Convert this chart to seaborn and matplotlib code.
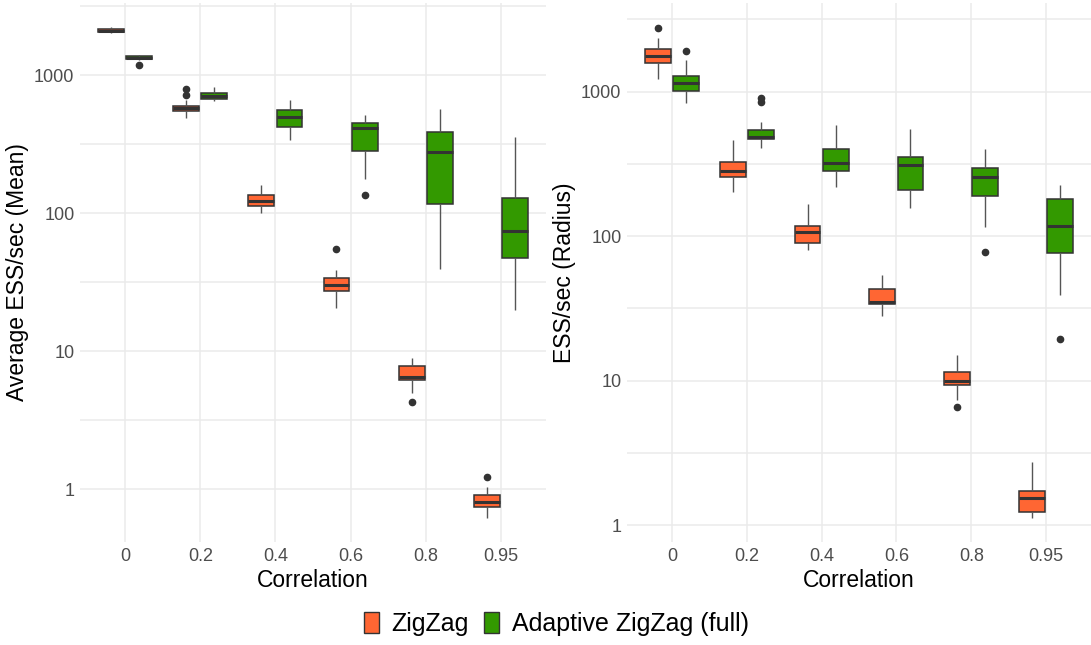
"""ESS/sec boxplots for ZigZag vs Adaptive ZigZag across correlations."""

import matplotlib

matplotlib.use("Agg")

import matplotlib.pyplot as plt
import numpy as np
import pandas as pd
import seaborn as sns
from matplotlib.patches import Patch
from matplotlib.ticker import FixedLocator, NullFormatter


CORRELATIONS = ["0", "0.2", "0.4", "0.6", "0.8", "0.95"]
METHODS = ["ZigZag", "Adaptive ZigZag (full)"]
COLORS = ["#FF6633", "#339900"]

# (lower whisker, q1, median, q3, upper whisker), per correlation
MEAN_ZZ_BOX = [
    (2000, 2050, 2100, 2155, 2210),
    (486, 545, 575, 602, 665),
    (101, 113, 123, 136, 159),
    (20.7, 27.1, 30.0, 33.9, 38.5),
    (4.97, 6.24, 6.52, 7.80, 8.96),
    (0.626, 0.740, 0.805, 0.905, 1.034),
]
MEAN_ZZ_OUT = [[], [715, 790], [], [54.6], [4.3], [1.24]]

MEAN_AZZ_BOX = [
    (1290, 1300, 1335, 1365, 1387),
    (651, 666, 703, 744, 822),
    (340, 422, 499, 554, 658),
    (178, 284, 417, 453, 515),
    (39.4, 117, 278, 385, 572),
    (20, 47, 73.8, 129.5, 359),
]
MEAN_AZZ_OUT = [[1190], [], [], [135], [], []]

RADIUS_ZZ_BOX = [
    (1233, 1590, 1770, 1978, 2370),
    (202, 256, 284, 328, 464),
    (80.2, 90.2, 106.4, 118.2, 167),
    (28.0, 33.9, 35.0, 42.9, 53.9),
    (7.38, 9.27, 9.98, 11.47, 15.0),
    (1.13, 1.23, 1.545, 1.712, 2.73),
]
RADIUS_ZZ_OUT = [[2780], [], [], [], [6.56], []]

RADIUS_AZZ_BOX = [
    (836, 1008, 1156, 1286, 1652),
    (406, 469, 486, 544, 621),
    (220, 283, 323, 402, 586),
    (156, 209, 313, 352, 550),
    (115, 190, 257, 298, 402),
    (39.2, 76.9, 117.7, 180, 225),
]
RADIUS_AZZ_OUT = [[1900], [854, 906], [], [], [77.4], [19.5]]


def summary_rows(method, boxes, outliers):
    # turn each five-number summary into a small sample whose quartiles land
    # exactly on the read values, then append the outliers
    rows = []
    for corr, (lo, q1, med, q3, hi), outs in zip(CORRELATIONS, boxes, outliers):
        sample = [lo] + [q1] * 5 + [med] * 5 + [q3] * 5 + [hi] + list(outs)
        rows += [{"corr": corr, "method": method, "value": v} for v in sample]
    return rows


def ggplot_limits(values):
    lv = np.log10(values)
    span = lv.max() - lv.min()
    return 10 ** (lv.min() - 0.05 * span), 10 ** (lv.max() + 0.05 * span)


def draw_panel(ax, df, ylabel):
    sns.boxplot(
        data=df,
        x="corr",
        y="value",
        hue="method",
        order=CORRELATIONS,
        hue_order=METHODS,
        palette=COLORS,
        width=0.75,
        gap=0.08,
        whis=1.5,
        log_scale=True,
        linecolor="#333333",
        linewidth=1.1,
        saturation=1,
        showcaps=False,
        medianprops=dict(color="#333333", linewidth=2.2),
        whiskerprops=dict(color="#555555", linewidth=1.0),
        flierprops=dict(marker="o", markersize=4.5, markerfacecolor="#333333",
                        markeredgecolor="#333333"),
        legend=False,
        ax=ax,
    )
    ax.set_yscale("log")
    ax.set_ylim(*ggplot_limits(df["value"].to_numpy()))
    ax.set_xlim(-0.6, 5.6)
    ax.yaxis.set_major_locator(FixedLocator([1, 10, 100, 1000]))
    ax.set_yticklabels(["1", "10", "100", "1000"])
    ax.yaxis.set_minor_locator(FixedLocator([10 ** (k + 0.5) for k in range(-1, 4)]))
    ax.yaxis.set_minor_formatter(NullFormatter())
    ax.grid(which="major", axis="both", color="#EBEBEB", linewidth=1.1)
    ax.grid(which="minor", axis="y", color="#EBEBEB", linewidth=1.1)
    ax.set_axisbelow(True)
    for spine in ax.spines.values():
        spine.set_visible(False)
    ax.tick_params(which="both", length=0, labelsize=13, labelcolor="#4D4D4D", pad=4)
    ax.set_xlabel("Correlation", fontsize=16.5, color="black", labelpad=3)
    ax.set_ylabel(ylabel, fontsize=16.5, color="black", labelpad=4)


sns.set_theme(style="white")
plt.rcParams["font.family"] = ["Liberation Sans", "DejaVu Sans"]

mean_df = pd.DataFrame(
    summary_rows(METHODS[0], MEAN_ZZ_BOX, MEAN_ZZ_OUT)
    + summary_rows(METHODS[1], MEAN_AZZ_BOX, MEAN_AZZ_OUT)
)
radius_df = pd.DataFrame(
    summary_rows(METHODS[0], RADIUS_ZZ_BOX, RADIUS_ZZ_OUT)
    + summary_rows(METHODS[1], RADIUS_AZZ_BOX, RADIUS_AZZ_OUT)
)

W, H = 1091, 645
fig = plt.figure(figsize=(W / 100, H / 100), dpi=100)
ax_mean = fig.add_axes([80 / W, 103 / H, 466 / W, 539 / H])
ax_radius = fig.add_axes([627 / W, 103 / H, 464 / W, 539 / H])

draw_panel(ax_mean, mean_df, "Average ESS/sec (Mean)")
draw_panel(ax_radius, radius_df, "ESS/sec (Radius)")

handles = [Patch(facecolor=c, edgecolor="#333333", linewidth=1.0, label=m)
           for c, m in zip(COLORS, METHODS)]
fig.legend(
    handles=handles,
    loc="center",
    bbox_to_anchor=(0.51, 21 / H),
    ncol=2,
    frameon=False,
    fontsize=18,
    labelcolor="black",
    handlelength=0.6,
    handleheight=0.9,
    handletextpad=0.5,
    columnspacing=0.6,
)

fig.savefig("out.png", dpi=100)
plt.close(fig)
